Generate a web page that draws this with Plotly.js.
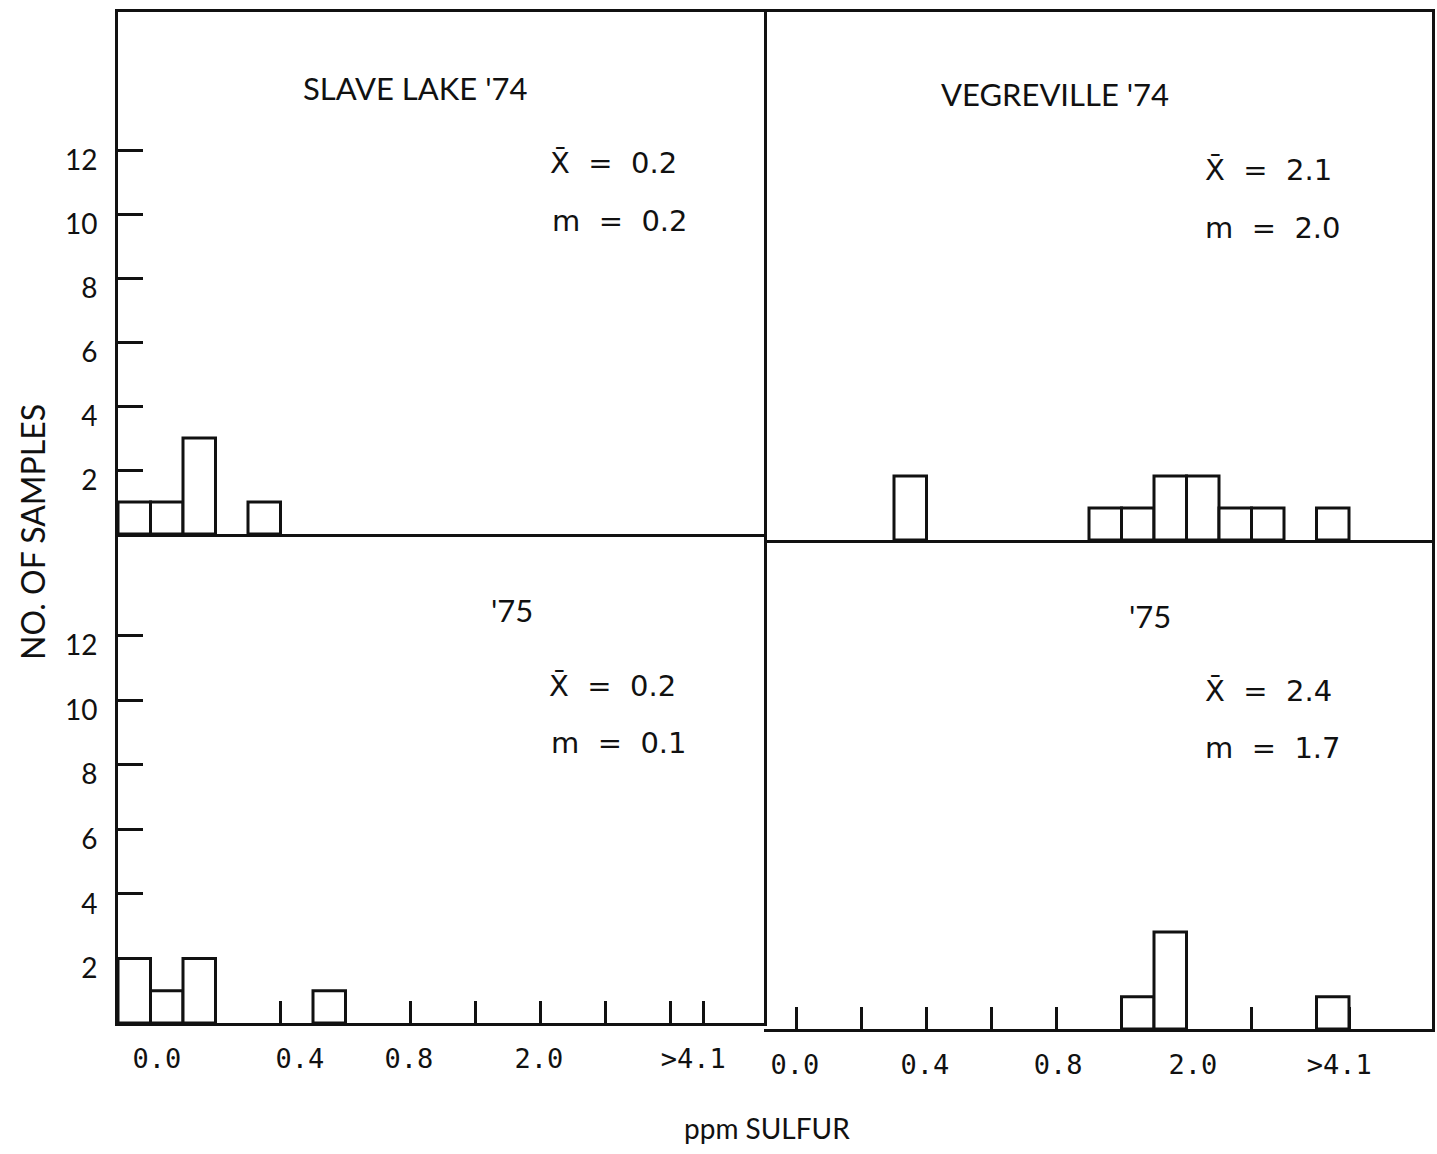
<!DOCTYPE html>
<html>
<head>
<meta charset="utf-8">
<script src="https://cdn.plot.ly/plotly-3.0.1.min.js"></script>
<style>html,body{margin:0;padding:0;background:#fff;}#chart{width:1437px;height:1154px;}</style>
</head>
<body>
<div id="chart"></div>
<script>
// ---- data (bin index = position along the ppm SULFUR scale, 18 bins) ----
const binIndex = [0,1,2,3,4,5,6,7,8,9,10,11,12,13,14,15,16,17];
const slaveLake74  = [1,1,3,0,1,0,0,0,0,0,0,0,0,0,0,0,0,0];
const vegreville74 = [0,0,0,0,2,0,0,0,0,0,1,1,2,2,1,1,0,1];
const slaveLake75  = [2,1,2,0,0,0,1,0,0,0,0,0,0,0,0,0,0,0];
const vegreville75 = [0,0,0,0,0,0,0,0,0,0,0,1,3,0,0,0,0,1];

const xTickLabels = ["0.0","0.4","0.8","2.0",">4.1"];
const xLabelPosLeft  = [1.2, 5.6, 8.95, 12.95, 17.7];
const xLabelPosRight = [0.95, 4.95, 9.05, 13.2, 17.7];
const xTickMarks = [1,3,5,7,9,11,13,15,17,18];
const yTickVals = [2,4,6,8,10,12];
const yTickText = ["2","4","6","8","10","12"];

const panelTitles = ["SLAVE LAKE '74","VEGREVILLE '74","'75","'75"];
const meanVals   = ["0.2","2.1","0.2","2.4"];
const medianVals = ["0.2","2.0","0.1","1.7"];

// ---- layout helpers ----
const W = 1437, H = 1154;
const px = v => v / W;
const py = v => 1 - v / H;
const LINE = '#111';

function barTrace(counts, xa, ya) {
  const x = [], y = [];
  counts.forEach((c, i) => { if (c > 0) { x.push(binIndex[i] + 0.5); y.push(c); } });
  return {
    type: 'bar', x: x, y: y, width: 1, xaxis: xa, yaxis: ya,
    marker: {color: '#fff', line: {color: LINE, width: 3}},
    hoverinfo: 'x+y', showlegend: false
  };
}

const data = [
  barTrace(slaveLake74, 'x', 'y'),
  barTrace(vegreville74, 'x2', 'y2'),
  barTrace(slaveLake75, 'x3', 'y3'),
  barTrace(vegreville75, 'x4', 'y4')
];

const baseAxis = {
  showline: true, linecolor: LINE, linewidth: 3,
  showgrid: false, zeroline: false, fixedrange: true
};
function topX(domain, range, anchor) {
  return Object.assign({}, baseAxis, {domain: domain, range: range, anchor: anchor, mirror: true,
    ticks: '', showticklabels: false});
}
function bottomX(domain, range, labelPos, anchor) {
  return Object.assign({}, baseAxis, {
    domain: domain, range: range, anchor: anchor, mirror: false,
    tickmode: 'array', tickvals: labelPos, ticktext: xTickLabels, ticks: '',
    tickfont: {family: 'DejaVu Sans Mono', size: 27, color: LINE},
    ticklabelstandoff: 10,
    minor: {tickmode: 'array', tickvals: xTickMarks, ticks: 'inside', ticklen: 22, tickwidth: 3, tickcolor: LINE}
  });
}
function leftY(domain, range, anchor) {
  return Object.assign({}, baseAxis, {
    domain: domain, range: range, anchor: anchor, mirror: true,
    tickmode: 'array', tickvals: yTickVals, ticktext: yTickText,
    ticks: 'inside', ticklen: 25, tickwidth: 3, tickcolor: LINE,
    tickfont: {family: 'Lato', size: 28, color: LINE},
    ticklabelshift: 10, ticklabelstandoff: 12
  });
}
function rightY(domain, range, anchor) {
  return Object.assign({}, baseAxis, {domain: domain, range: range, anchor: anchor,
    side: 'right', mirror: false, ticks: '', showticklabels: false});
}

const xL = [px(118), px(764)], xR = [px(764), px(1432)];
const layout = {
  width: W, height: H,
  margin: {l: 0, r: 0, t: 0, b: 0},
  paper_bgcolor: '#fff', plot_bgcolor: '#fff',
  showlegend: false, bargap: 0,
  xaxis:  topX(xL, [0, 646/32.5], 'y'),
  yaxis:  leftY([py(534), py(12)], [0, 522/32], 'x'),
  xaxis2: topX(xR, [0, 668/32.5], 'y2'),
  yaxis2: rightY([py(540), py(12)], [0, 528/32], 'x2'),
  xaxis3: bottomX(xL, [0, 646/32.5], xLabelPosLeft, 'y3'),
  yaxis3: leftY([py(1023), py(534)], [0, 489/32.3], 'x3'),
  xaxis4: bottomX(xR, [0, 668/32.5], xLabelPosRight, 'y4'),
  yaxis4: rightY([py(1029), py(540)], [0, 489/32.3], 'x4'),
  annotations: []
};

const titleFont = {family: 'Lato', size: 31, color: LINE};
const statFont = {family: 'DejaVu Sans', size: 29, color: LINE};
function ann(text, x, y, font, extra) {
  return Object.assign({text: text, xref: 'paper', yref: 'paper', x: px(x), y: py(y),
    xanchor: 'left', yanchor: 'middle', showarrow: false, font: font}, extra || {});
}
const titlePos = [[301, 88], [939, 94], [489, 610], [1127, 616]];
const meanPos  = [[548, 163], [1203, 170], [547, 686], [1203, 691]];
const medPos   = [[550, 221], [1203, 228], [549, 743], [1203, 748]];
for (let i = 0; i < 4; i++) {
  layout.annotations.push(ann(panelTitles[i], titlePos[i][0], titlePos[i][1], titleFont));
  layout.annotations.push(ann('X\u0304  =  ' + meanVals[i], meanPos[i][0], meanPos[i][1], statFont));
  layout.annotations.push(ann('m  =  ' + medianVals[i], medPos[i][0], medPos[i][1], statFont));
}
layout.annotations.push(ann('NO. OF SAMPLES', 32, 532, {family: 'Lato', size: 32, color: LINE},
  {xanchor: 'center', textangle: -90}));
layout.annotations.push(ann('ppm SULFUR', 767, 1128, {family: 'Lato', size: 28, color: LINE},
  {xanchor: 'center'}));

Plotly.newPlot('chart', data, layout, {displayModeBar: false, staticPlot: true});
</script>
</body>
</html>
